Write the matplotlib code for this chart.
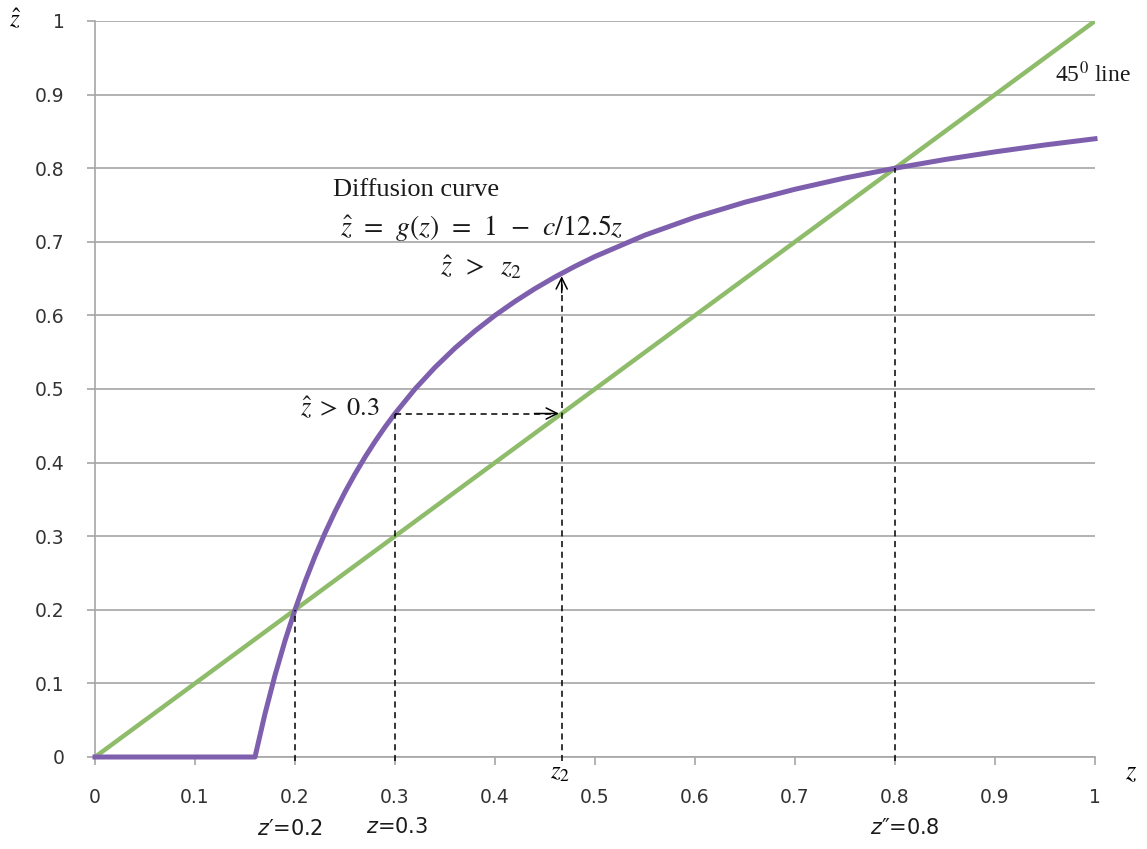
import matplotlib
matplotlib.use("Agg")
import matplotlib.pyplot as plt

# ---- data ----
curve_z = [0.0, 0.155, 0.16, 0.17, 0.18, 0.19, 0.20, 0.21, 0.22, 0.23, 0.24, 0.25, 0.26, 0.27,
           0.28, 0.29, 0.30, 0.32, 0.34, 0.36, 0.38, 0.40, 0.42, 0.44, 0.46, 0.48, 0.50,
           0.55, 0.60, 0.65, 0.70, 0.75, 0.80, 0.85, 0.90, 0.95, 1.00]
curve_g = [0.0, 0.0, 0.0, 0.0588, 0.1111, 0.1579, 0.200, 0.2381, 0.2727, 0.3043, 0.3333, 0.360,
           0.3846, 0.4074, 0.4286, 0.4483, 0.4667, 0.500, 0.5294, 0.5556, 0.5789, 0.600,
           0.6190, 0.6364, 0.6522, 0.6667, 0.680, 0.7091, 0.7333, 0.7538, 0.7714, 0.7867,
           0.800, 0.8118, 0.8222, 0.8316, 0.840]
diag_z = [0.0, 1.0]
diag_y = [0.0, 1.0]

z_prime, g_prime = 0.2, 0.2
z_mid, g_mid = 0.3, 0.4667
z_two, g_two = 0.4667, 0.657
z_dprime, g_dprime = 0.8, 0.8

ticks = [0, 0.1, 0.2, 0.3, 0.4, 0.5, 0.6, 0.7, 0.8, 0.9, 1]
tick_labels = ["0", "0.1", "0.2", "0.3", "0.4", "0.5", "0.6", "0.7", "0.8", "0.9", "1"]

plt.rcParams['mathtext.fontset'] = 'stix'
serif = ['Liberation Serif', 'DejaVu Serif']
sans = ['DejaVu Sans']

fig = plt.figure(figsize=(11.47, 8.49), dpi=100)
ax = fig.add_axes([95/1147, 92/849, 1000/1147, 736/849])

grid_c = '#A6A6A6'
txt_c = '#1a1a1a'
ax.set_xlim(0, 1)
ax.set_ylim(0, 1)
ax.set_xticks(ticks)
ax.set_yticks(ticks)
ax.set_xticklabels(tick_labels)
ax.set_yticklabels(tick_labels)
for lbl in ax.get_xticklabels() + ax.get_yticklabels():
    lbl.set_fontfamily(sans)
    lbl.set_fontsize(13.5)
    lbl.set_color('#333333')
ax.yaxis.grid(True, color=grid_c, linewidth=1.2)
ax.set_axisbelow(True)
for s in ['top', 'right']:
    ax.spines[s].set_visible(False)
for s in ['left', 'bottom']:
    ax.spines[s].set_color(grid_c)
    ax.spines[s].set_linewidth(1.2)
ax.tick_params(axis='both', color=grid_c, length=6, width=1.2)
ax.tick_params(axis='x', pad=16)
ax.tick_params(axis='y', pad=16)

# lines
ax.plot(diag_z, diag_y, color='#8FBC6A', linewidth=3.2, solid_capstyle='butt', zorder=3)
ax.plot(curve_z, curve_g, color='#7E5FAE', linewidth=3.6, zorder=4, clip_on=False)

# dashed guides
dash = dict(color='black', linestyle=(0, (4, 3)), linewidth=1.1, zorder=5, clip_on=False)
ax.plot([z_prime, z_prime], [-0.005, g_prime], **dash)
ax.plot([z_mid, z_mid], [-0.005, g_mid], **dash)
ax.plot([z_dprime, z_dprime], [-0.005, g_dprime], **dash)
ax.plot([z_two, z_two], [-0.005, g_two - 0.01], **dash)
ax.plot([z_mid, z_two - 0.01], [g_mid, g_mid], **dash)
ax.annotate('', xy=(z_two, g_mid), xytext=(z_two - 0.03, g_mid),
            arrowprops=dict(arrowstyle='->', color='black', lw=1.1, mutation_scale=20), zorder=6)
ax.annotate('', xy=(z_two, g_two), xytext=(z_two, g_two - 0.03),
            arrowprops=dict(arrowstyle='->', color='black', lw=1.1, mutation_scale=20), zorder=6)

# annotations
ax.text(0.238, 0.77, 'Diffusion curve', fontfamily=serif, fontsize=19, color=txt_c,
        ha='left', va='center')
ax.text(0.245, 0.719, r'$\hat{z}\;\,=\;\,g(z)\;\,=\;\,1\;\,-\;\,c/12.5z$', fontsize=20,
        color=txt_c, ha='left', va='center')
ax.text(0.345, 0.665, r'$\hat{z}\;\;>\;\;z_2$', fontsize=20, color=txt_c, ha='left', va='center')
ax.text(0.205, 0.473, r'$\hat{z}\;>\;0.3$', fontsize=19, color=txt_c, ha='left', va='center')
ax.text(0.96, 0.928, r'45$^{0}$ line', fontfamily=serif, fontsize=17, color=txt_c,
        ha='left', va='center')

# axis labels
fig.text(15/1147, 1 - 20/849, r'$\hat{z}$', fontsize=18, ha='center', va='center')
fig.text(1131/1147, 1 - 772/849, r'$z$', fontsize=19, ha='center', va='center')
fig.text(560/1147, 1 - 772/849, r'$z_2$', fontsize=18, ha='center', va='center')

# point labels below axis
lab = dict(fontsize=15, ha='center', va='center', color=txt_c, fontfamily=sans,
           math_fontfamily='dejavusans')
fig.text(290/1147, 1 - 829/849, "$z$\u2032=0.2", **lab)
fig.text(397/1147, 1 - 827/849, "$z$=0.3", **lab)
fig.text(905/1147, 1 - 828/849, "$z$\u2033=0.8", **lab)

fig.savefig('out.png', dpi=100)
